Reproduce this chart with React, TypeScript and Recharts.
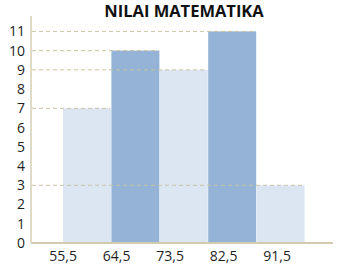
import { BarChart, Bar, XAxis, YAxis, usePlotArea } from "recharts";

const classes = ["A", "B", "C", "D", "E"];
const frequencies = [7, 10, 9, 11, 3];
const shades = ["light", "dark", "light", "dark", "light"];
const boundaryTicks = [55.5, 64.5, 73.5, 82.5, 91.5];
const yTicks = [0, 1, 2, 3, 4, 5, 6, 7, 8, 9, 10, 11];

const data = classes.map((c, i) => ({
  kelas: c,
  batas: boundaryTicks[i],
  frekuensi: frequencies[i],
  shade: shades[i],
}));

const COLORS: Record<string, string> = { light: "#dce6f2", dark: "#95b3d7" };

function BarWithGuide(props: any) {
  const plot = usePlotArea();
  const { x, y, width, height, payload } = props;
  const left = plot ? plot.x : 31;
  return (
    <g>
      <rect x={x} y={y} width={width} height={height} fill={COLORS[payload.shade]} />
      <line
        x1={left + 1}
        x2={x + width - 1}
        y1={y}
        y2={y}
        stroke="#c9c2a2"
        strokeWidth={1}
        strokeDasharray="4 3"
      />
    </g>
  );
}

export default function App() {
  return (
    <div style={{ position: "absolute", left: 0, top: 0, width: 339, height: 270 }}>
      <div
        style={{
          position: "absolute",
          left: 0,
          top: 1,
          width: 368,
          textAlign: "center",
          fontFamily: "Open Sans",
          fontWeight: 700,
          fontSize: 16.5,
          color: "#111",
          lineHeight: "20px",
        }}
      >
        NILAI MATEMATIKA
      </div>
      <BarChart
        width={339}
        height={270}
        data={data}
        barCategoryGap={0}
        margin={{ top: 16, right: 6, left: 0, bottom: 3 }}
      >
        <XAxis
          xAxisId="labels"
          dataKey="batas"
          type="number"
          domain={[50.1, 100.9]}
          ticks={boundaryTicks}
          interval={0}
          allowDataOverflow
          height={24}
          tickLine={false}
          tickSize={0}
          tickMargin={8}
          stroke="#d2ccae"
          strokeWidth={2}
          tick={{ fill: "#1f1f1f", fontSize: 14, fontFamily: "Open Sans" }}
          tickFormatter={(v: number) => v.toFixed(1).replace(".", ",")}
        />
        <XAxis
          xAxisId="bars"
          dataKey="kelas"
          orientation="top"
          hide
          height={0}
          padding={{ left: 32, right: 28 }}
        />
        <YAxis
          domain={[0, 11.8]}
          ticks={yTicks}
          interval={0}
          width={31}
          tickLine={false}
          tickSize={0}
          tickMargin={6}
          stroke="#e0dbc6"
          strokeWidth={2}
          tick={{ fill: "#1f1f1f", fontSize: 14, fontFamily: "Open Sans" }}
        />
        <Bar
          xAxisId="bars"
          dataKey="frekuensi"
          isAnimationActive={false}
          shape={(p: any) => <BarWithGuide {...p} />}
        />
      </BarChart>
    </div>
  );
}
